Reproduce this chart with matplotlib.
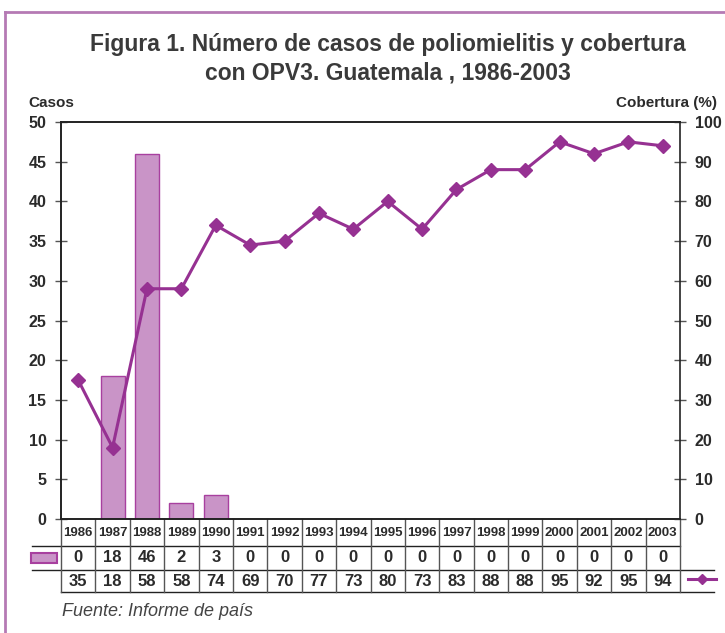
import matplotlib
matplotlib.use('Agg')
import matplotlib.pyplot as plt
from matplotlib.lines import Line2D
from matplotlib.patches import Rectangle
import numpy as np

plt.rcParams['font.family'] = ['Liberation Sans', 'DejaVu Sans']

years = ['1986', '1987', '1988', '1989', '1990', '1991', '1992', '1993', '1994',
         '1995', '1996', '1997', '1998', '1999', '2000', '2001', '2002', '2003']
casos = [0, 18, 46, 2, 3, 0, 0, 0, 0, 0, 0, 0, 0, 0, 0, 0, 0, 0]
cobertura = [35, 18, 58, 58, 74, 69, 70, 77, 73, 80, 73, 83, 88, 88, 95, 92, 95, 94]

bar_face = '#c994c7'
bar_edge = '#a8409f'
line_col = '#963192'
txt = '#2b2b2b'

fig = plt.figure(figsize=(7.25, 6.33), dpi=100)
ax = fig.add_axes([61 / 725, 1 - 519 / 633, 619 / 725, 397 / 633])
x = np.arange(len(years))
ax.bar(x, casos, width=0.7, color=bar_face, edgecolor=bar_edge, linewidth=1)
ax.set_xlim(-0.5, len(years) - 0.5)
ax.set_ylim(0, 50)
ax.set_yticks(range(0, 51, 5))
ax.set_xticks([])
ax2 = ax.twinx()
ax2.plot(x, cobertura, color=line_col, lw=2.2, marker='D', ms=7.5, zorder=3)
ax2.set_ylim(0, 100)
ax2.set_yticks(range(0, 101, 10))

for a in (ax, ax2):
    for s in a.spines.values():
        s.set_color('#222222')
        s.set_linewidth(1.2)
    a.tick_params(axis='y', direction='inout', length=9, width=1, color='#555555',
                  labelsize=11.5, labelcolor=txt, pad=6)
    for lab in a.get_yticklabels():
        lab.set_fontweight('bold')
ax.spines['right'].set_visible(False)

# tabla de datos bajo el eje
trans = ax.get_xaxis_transform()
r1, r2, r3 = -27 / 397, -51 / 397, -73 / 397
lk = dict(transform=trans, clip_on=False, color='#222222', lw=1)
ax.add_line(Line2D([-1.35, 17.5], [r1, r1], **lk))
ax.add_line(Line2D([-1.35, 18.5], [r2, r2], **lk))
ax.add_line(Line2D([-0.5, 18.5], [r3, r3], **lk))
for i in range(len(years) + 1):
    ax.add_line(Line2D([i - 0.5, i - 0.5], [0, r3], transform=trans,
                       clip_on=False, color='#555555', lw=1))
for i, yr in enumerate(years):
    ax.text(i, r1 / 2, yr, transform=trans, ha='center', va='center',
            fontsize=9.5, fontweight='bold', color=txt)
    ax.text(i, (r1 + r2) / 2, str(casos[i]), transform=trans, ha='center',
            va='center', fontsize=12, fontweight='bold', color=txt)
    ax.text(i, (r2 + r3) / 2, str(cobertura[i]), transform=trans, ha='center',
            va='center', fontsize=12, fontweight='bold', color=txt)

# leyendas en la tabla
fig.patches.append(Rectangle((31 / 725, 1 - 563 / 633), 26 / 725, 10 / 633,
                             transform=fig.transFigure, facecolor=bar_face,
                             edgecolor=bar_edge, lw=1.5))
fig.lines.append(Line2D([688 / 725, 716 / 725], [1 - 579 / 633] * 2,
                        transform=fig.transFigure, color=line_col, lw=2.2))
fig.lines.append(Line2D([702 / 725], [1 - 579 / 633], transform=fig.transFigure,
                        color=line_col, marker='D', ms=5))

# titulo y textos
fig.text(0.535, 1 - 44 / 633, 'Figura 1. Número de casos de poliomielitis y cobertura',
         ha='center', va='center', fontsize=16.5, fontweight='bold', color='#3a3a3a')
fig.text(0.535, 1 - 73 / 633, 'con OPV3. Guatemala , 1986-2003',
         ha='center', va='center', fontsize=16.5, fontweight='bold', color='#3a3a3a')
fig.text(28 / 725, 1 - 103 / 633, 'Casos', ha='left', va='center',
         fontsize=11, fontweight='bold', color=txt)
fig.text(717 / 725, 1 - 103 / 633, 'Cobertura (%)', ha='right', va='center',
         fontsize=11, fontweight='bold', color=txt)
fig.text(62 / 725, 1 - 611 / 633, 'Fuente: Informe de país', ha='left', va='center',
         fontsize=13, style='italic', color='#444444')

# marco
fig.lines.append(Line2D([5 / 725, 1.0], [1 - 12 / 633] * 2, transform=fig.transFigure,
                        color='#b57ab4', lw=2))
fig.lines.append(Line2D([5 / 725] * 2, [0, 1 - 12 / 633], transform=fig.transFigure,
                        color='#b57ab4', lw=2))

fig.savefig('out.png', dpi=100)
